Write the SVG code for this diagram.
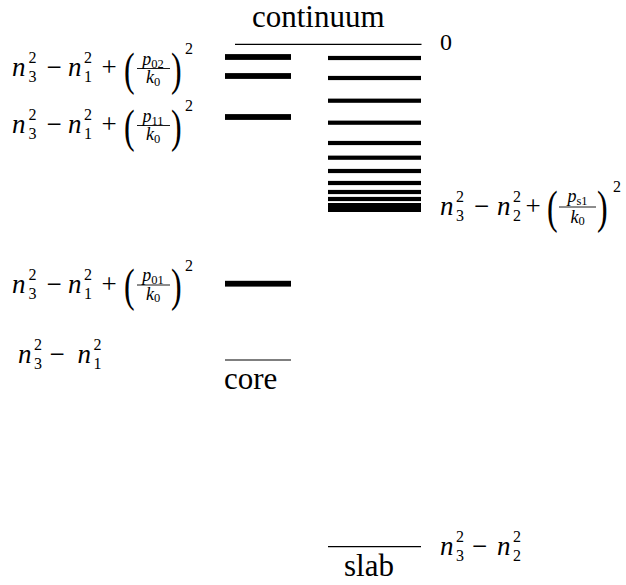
<svg xmlns="http://www.w3.org/2000/svg" width="626" height="585" viewBox="0 0 626 585">
<style>
.lbl{font-family:"Liberation Serif","Times New Roman",serif;font-size:31px;fill:#000}
.mi{font-family:"Liberation Serif","Times New Roman",serif;font-style:italic;font-size:27px;fill:#000}
.mo{font-family:"Liberation Serif","Times New Roman",serif;font-size:27px;fill:#000}
.sc{font-family:"Liberation Serif","Times New Roman",serif;font-size:16px;fill:#000}
.sci{font-family:"Liberation Serif","Times New Roman",serif;font-style:italic;font-size:18px;fill:#000}
.ssc{font-family:"Liberation Serif","Times New Roman",serif;font-size:12.5px;font-style:normal}
.par{font-family:"Liberation Serif","Times New Roman",serif;font-size:32px;fill:#000}
.thin{stroke:#000;stroke-width:1.2;fill:none}
.fb{stroke:#000;stroke-width:0.9;fill:none}
.core{fill:#000}
.slab{fill:#000}
</style>

<g id="continuum">
  <text class="lbl" x="252" y="27">continuum</text>
  <line class="thin" x1="235" y1="44.3" x2="421.5" y2="44.3"/>
  <text class="mo" x="440" y="50" style="font-size:24px">0</text>
</g>

<g id="core">
  <rect class="core" x="225" y="54.1" width="66" height="5.8"/>
  <rect class="core" x="225" y="73.1" width="66" height="5.8"/>
  <rect class="core" x="225" y="114.1" width="66" height="5.8"/>
  <rect class="core" x="225" y="280.8" width="66" height="5.8"/>
  <line class="thin" x1="225" y1="360" x2="291" y2="360"/>
  <text class="lbl" x="224" y="389">core</text>
</g>

<g id="slab">
  <rect class="slab" x="328" y="55.9" width="93" height="4.2"/>
  <rect class="slab" x="328" y="75.9" width="93" height="4.2"/>
  <rect class="slab" x="328" y="98.6" width="93" height="4.2"/>
  <rect class="slab" x="328" y="120.6" width="93" height="4.2"/>
  <rect class="slab" x="328" y="140.9" width="93" height="4.2"/>
  <rect class="slab" x="328" y="155.6" width="93" height="4.2"/>
  <rect class="slab" x="328" y="168.9" width="93" height="4.2"/>
  <rect class="slab" x="328" y="180.9" width="93" height="4.2"/>
  <rect class="slab" x="328" y="189.9" width="93" height="4.2"/>
  <rect class="slab" x="328" y="196.9" width="93" height="4.2"/>
  <rect class="slab" x="328" y="203" width="93" height="9"/>
  <line class="thin" x1="328" y1="546.7" x2="421" y2="546.7"/>
  <text class="lbl" x="344" y="576">slab</text>
</g>

<g id="label-p02">
  <text class="mi" x="12" y="76">n</text>
  <text class="sc" x="28.5" y="82">3</text>
  <text class="sc" x="28.5" y="63">2</text>
  <text class="mo" x="54" y="76" text-anchor="middle">−</text>
  <text class="mi" x="68" y="76">n</text>
  <text class="sc" x="84" y="82">1</text>
  <text class="sc" x="84" y="63">2</text>
  <text class="mo" x="109" y="76" text-anchor="middle">+</text>
  <text class="par" transform="translate(124,84.5) scale(1,1.45)">(</text>
  <text class="sci" x="153" y="64.5" text-anchor="middle">p<tspan class="ssc" dy="3">02</tspan></text>
  <line class="fb" x1="137" y1="68.5" x2="170" y2="68.5"/>
  <text class="sci" x="153" y="83" text-anchor="middle">k<tspan class="ssc" dy="2.5">0</tspan></text>
  <text class="par" transform="translate(171,84.5) scale(1,1.45)">)</text>
  <text class="sc" x="185" y="54">2</text>
</g>

<g id="label-p11">
  <text class="mi" x="12" y="133">n</text>
  <text class="sc" x="28.5" y="139">3</text>
  <text class="sc" x="28.5" y="120">2</text>
  <text class="mo" x="54" y="133" text-anchor="middle">−</text>
  <text class="mi" x="68" y="133">n</text>
  <text class="sc" x="84" y="139">1</text>
  <text class="sc" x="84" y="120">2</text>
  <text class="mo" x="109" y="133" text-anchor="middle">+</text>
  <text class="par" transform="translate(124,141.5) scale(1,1.45)">(</text>
  <text class="sci" x="153" y="121.5" text-anchor="middle">p<tspan class="ssc" dy="3">11</tspan></text>
  <line class="fb" x1="137" y1="125.5" x2="170" y2="125.5"/>
  <text class="sci" x="153" y="140" text-anchor="middle">k<tspan class="ssc" dy="2.5">0</tspan></text>
  <text class="par" transform="translate(171,141.5) scale(1,1.45)">)</text>
  <text class="sc" x="185" y="111">2</text>
</g>

<g id="label-p01">
  <text class="mi" x="12" y="292.5">n</text>
  <text class="sc" x="28.5" y="298.5">3</text>
  <text class="sc" x="28.5" y="279.5">2</text>
  <text class="mo" x="54" y="292.5" text-anchor="middle">−</text>
  <text class="mi" x="68" y="292.5">n</text>
  <text class="sc" x="84" y="298.5">1</text>
  <text class="sc" x="84" y="279.5">2</text>
  <text class="mo" x="109" y="292.5" text-anchor="middle">+</text>
  <text class="par" transform="translate(124,301) scale(1,1.45)">(</text>
  <text class="sci" x="153" y="281" text-anchor="middle">p<tspan class="ssc" dy="3">01</tspan></text>
  <line class="fb" x1="137" y1="285" x2="170" y2="285"/>
  <text class="sci" x="153" y="299.5" text-anchor="middle">k<tspan class="ssc" dy="2.5">0</tspan></text>
  <text class="par" transform="translate(171,301) scale(1,1.45)">)</text>
  <text class="sc" x="185" y="270.5">2</text>
</g>

<g id="label-core-base">
  <text class="mi" x="18" y="363">n</text>
  <text class="sc" x="34" y="369">3</text>
  <text class="sc" x="34" y="350">2</text>
  <text class="mo" x="57" y="363" text-anchor="middle">−</text>
  <text class="mi" x="77.5" y="363">n</text>
  <text class="sc" x="93.5" y="369">1</text>
  <text class="sc" x="93.5" y="350">2</text>
</g>

<g id="label-ps1">
  <text class="mi" x="440" y="214.5">n</text>
  <text class="sc" x="456" y="220.5">3</text>
  <text class="sc" x="456" y="201.5">2</text>
  <text class="mo" x="481.5" y="214.5" text-anchor="middle">−</text>
  <text class="mi" x="497" y="214.5">n</text>
  <text class="sc" x="513" y="220.5">2</text>
  <text class="sc" x="513" y="201.5">2</text>
  <text class="mo" x="533" y="214.5" text-anchor="middle">+</text>
  <text class="par" transform="translate(547,223) scale(1,1.45)">(</text>
  <text class="sci" x="577.5" y="202" text-anchor="middle">p<tspan class="ssc" font-style="italic" dy="2.5">s</tspan><tspan class="ssc">1</tspan></text>
  <line class="fb" x1="559" y1="207" x2="596" y2="207"/>
  <text class="sci" x="577.5" y="222.5" text-anchor="middle">k<tspan class="ssc" dy="2.5">0</tspan></text>
  <text class="par" transform="translate(597,223) scale(1,1.45)">)</text>
  <text class="sc" x="613" y="192">2</text>
</g>

<g id="label-slab-base">
  <text class="mi" x="440" y="555">n</text>
  <text class="sc" x="456" y="561">3</text>
  <text class="sc" x="456" y="542">2</text>
  <text class="mo" x="479.5" y="555" text-anchor="middle">−</text>
  <text class="mi" x="497" y="555">n</text>
  <text class="sc" x="513" y="561">2</text>
  <text class="sc" x="513" y="542">2</text>
</g>
</svg>
